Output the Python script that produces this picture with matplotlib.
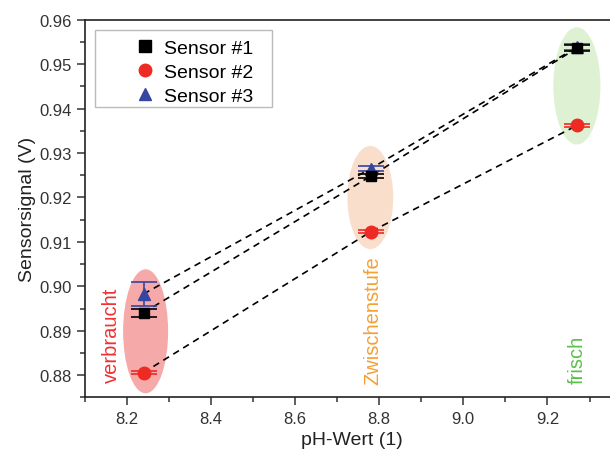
import matplotlib
matplotlib.use("Agg")
import matplotlib.pyplot as plt
from matplotlib.patches import Ellipse, Rectangle
from matplotlib.lines import Line2D
from matplotlib.ticker import MultipleLocator, FormatStrFormatter

plt.rcParams['font.family'] = ['Liberation Sans', 'DejaVu Sans']

# data
ph = [8.24, 8.78, 9.27]
s1 = [0.8941, 0.9248, 0.9536]
s1_err = [0.0009, 0.0005, 0.0007]
s2 = [0.8806, 0.9123, 0.9362]
s2_err = [0.0004, 0.0004, 0.0004]
s3 = [0.8983, 0.9265, 0.9538]
s3_err = [0.0027, 0.0006, 0.0007]
labels = ["Sensor #1", "Sensor #2", "Sensor #3"]

# regions (center x, center y, width, height)
reg_x = [8.245, 8.779, 9.27]
reg_y = [0.8899, 0.9200, 0.9451]
reg_w = [0.107, 0.109, 0.112]
reg_h = [0.0279, 0.0232, 0.0264]
reg_fc = ["#f59a9a", "#f9d9c4", "#d9f0cc"]
reg_text = ["verbraucht", "Zwischenstufe", "frisch"]
reg_tx = [8.163, 8.785, 9.27]
reg_ty = [0.8893, 0.8926, 0.8836]
reg_tc = ["#ee3333", "#f5a035", "#5cbf4c"]

c1, c2, c3 = 'black', '#ee2a24', '#3645a0'

fig = plt.figure(figsize=(6.1, 4.6), dpi=100)
ax = fig.add_axes([0.1387, 0.1337, 0.876, 0.8213])

for cx, cy, w, h, fc in zip(reg_x, reg_y, reg_w, reg_h, reg_fc):
    ax.add_patch(Ellipse((cx, cy), w, h, facecolor=fc, edgecolor='none', alpha=0.85, zorder=1))
for t, tx, ty, tc in zip(reg_text, reg_tx, reg_ty, reg_tc):
    ax.text(tx, ty, t, rotation=90, ha='center', va='center', color=tc, fontsize=14.5, zorder=2)

for ys in (s1, s2, s3):
    ax.plot(ph, ys, linestyle=(0, (4, 3)), color='black', lw=1.2, zorder=3)

ax.errorbar(ph, s1, yerr=s1_err, fmt='s', color=c1, ms=7, capsize=9.5, elinewidth=1.2,
            capthick=1.2, zorder=5)
ax.errorbar(ph, s2, yerr=s2_err, fmt='o', color=c2, ms=9, capsize=9.5, elinewidth=1.2,
            capthick=1.2, zorder=4)
ax.errorbar(ph, s3, yerr=s3_err, fmt='^', color=c3, ms=9, capsize=9.5, elinewidth=1.2,
            capthick=1.2, zorder=4)

ax.set_xlim(8.1, 9.37)
ax.set_ylim(0.875, 0.96)
ax.xaxis.set_major_locator(MultipleLocator(0.2))
ax.xaxis.set_minor_locator(MultipleLocator(0.1))
ax.yaxis.set_major_locator(MultipleLocator(0.01))
ax.yaxis.set_minor_locator(MultipleLocator(0.005))
ax.xaxis.set_major_formatter(FormatStrFormatter('%.1f'))
ax.yaxis.set_major_formatter(FormatStrFormatter('%.2f'))
ax.tick_params(which='major', direction='out', length=6, width=1.1, labelsize=12, colors='#333333')
ax.tick_params(which='minor', direction='out', length=3.5, width=1.1, colors='#333333')
for sp in ax.spines.values():
    sp.set_linewidth(1.2)
    sp.set_color('#222222')

ax.set_xlabel("pH-Wert (1)", fontsize=14, color='#222222', labelpad=4)
ax.set_ylabel("Sensorsignal (V)", fontsize=14, color='#222222', labelpad=2)

# legend frame
ax.add_patch(Rectangle((0.0195, 0.7689), 0.3312, 0.2046, transform=ax.transAxes,
                       facecolor='white', edgecolor='#bbbbbb', lw=1.0, zorder=6))
hs = [Line2D([], [], marker='s', color=c1, ls='none', ms=8),
      Line2D([], [], marker='o', color=c2, ls='none', ms=9),
      Line2D([], [], marker='^', color=c3, ls='none', ms=9)]
leg = ax.legend(hs, labels, loc='upper left', bbox_to_anchor=(0.0949, 0.9476), borderaxespad=0,
                borderpad=0, fontsize=14, frameon=False, handlelength=1.0,
                handletextpad=0.45, labelspacing=0.33)
leg.set_zorder(7)

fig.savefig("out.png", dpi=100)
